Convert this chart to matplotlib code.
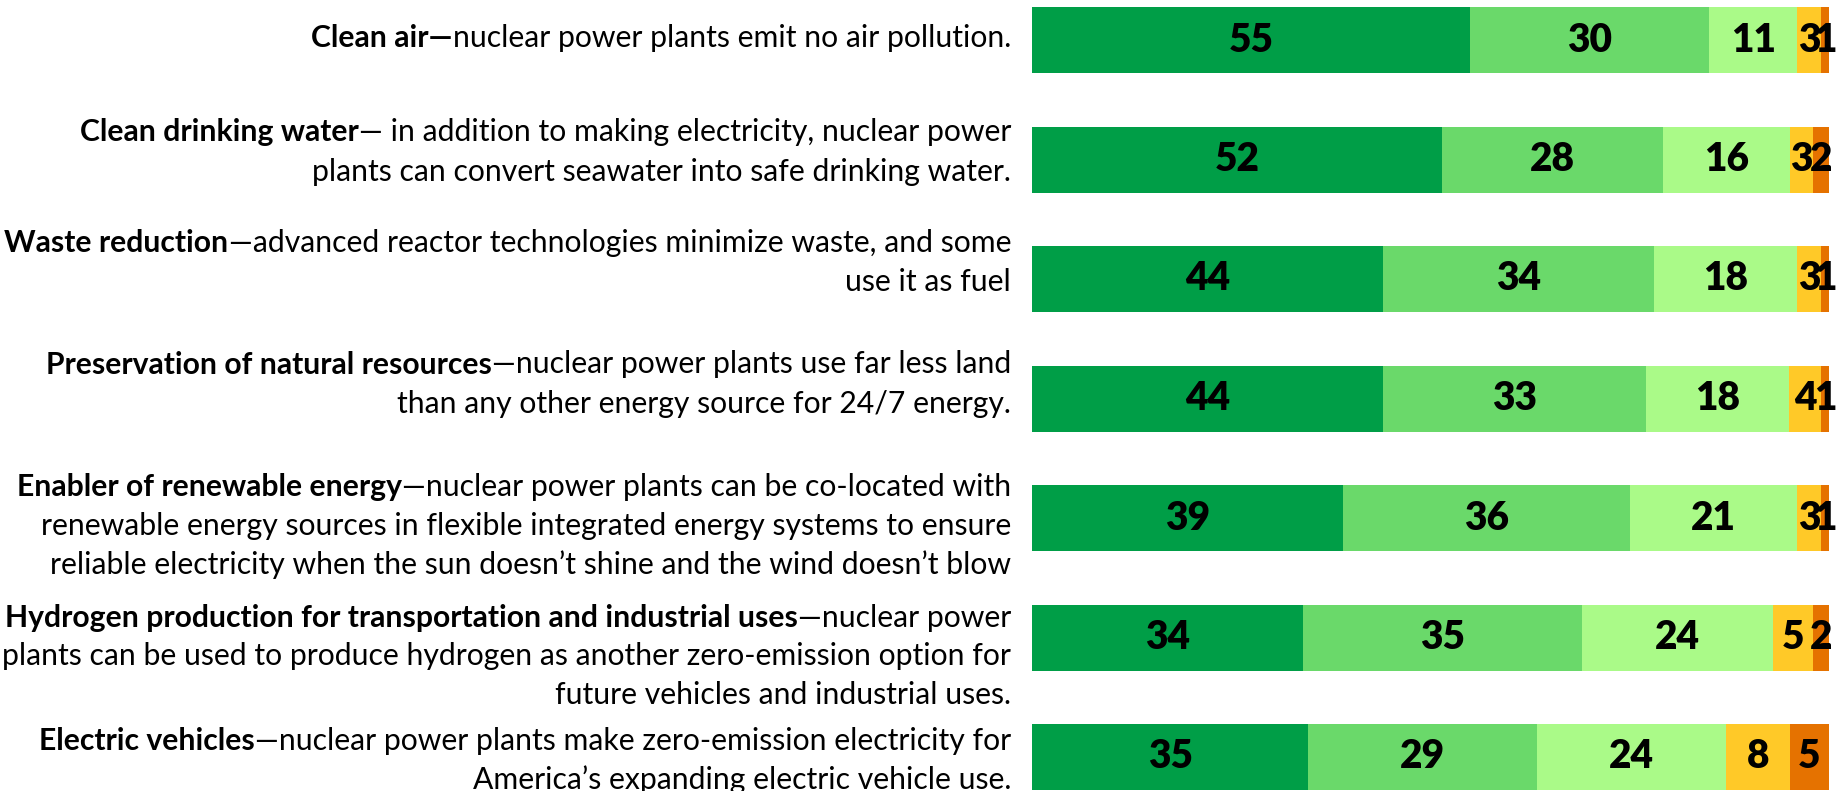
import matplotlib
matplotlib.use("Agg")
import matplotlib.pyplot as plt
import numpy as np
from matplotlib.transforms import blended_transform_factory

# ---- data ----
titles = [
    "Clean air\u2014",
    "Clean drinking water",
    "Waste reduction",
    "Preservation of natural resources",
    "Enabler of renewable energy",
    "Hydrogen production for transportation and industrial uses",
    "Electric vehicles",
]
descriptions = [
    ["nuclear power plants emit no air pollution."],
    ["\u2014 in addition to making electricity, nuclear power",
     "plants can convert seawater into safe drinking water."],
    ["\u2014advanced reactor technologies minimize waste, and some",
     "use it as fuel"],
    ["\u2014nuclear power plants use far less land",
     "than any other energy source for 24/7 energy."],
    ["\u2014nuclear power plants can be co-located with",
     "renewable energy sources in flexible integrated energy systems to ensure",
     "reliable electricity when the sun doesn\u2019t shine and the wind doesn\u2019t blow"],
    ["\u2014nuclear power",
     "plants can be used to produce hydrogen as another zero-emission option for",
     "future vehicles and industrial uses."],
    ["\u2014nuclear power plants make zero-emission electricity for",
     "America\u2019s expanding electric vehicle use."],
]
series_names = ["Strongly favor", "Somewhat favor", "Neutral", "Somewhat oppose", "Strongly oppose"]
s1 = [55, 52, 44, 44, 39, 34, 35]
s2 = [30, 28, 34, 33, 36, 35, 29]
s3 = [11, 16, 18, 18, 21, 24, 24]
s4 = [3, 3, 3, 4, 3, 5, 8]
s5 = [1, 2, 1, 1, 1, 2, 5]

# ---- style ----
colors = ["#009E47", "#6AD96A", "#AAFA88", "#FFC928", "#E57200"]
W, H = 1847, 791
FONT = "Lato"

fig = plt.figure(figsize=(W / 100, H / 100), dpi=100)
ax = fig.add_axes([1032 / W, 0, 797 / W, 1])
row_px = 119.5
first_px = 40
ax.set_ylim((H - first_px) / row_px, -first_px / row_px)
ax.set_xlim(0, 100)
ax.axis("off")

data = np.array([s1, s2, s3, s4, s5], dtype=float)
totals = data.sum(axis=0)
norm = data / totals * 100
y = np.arange(len(titles))
left = np.zeros(len(titles))
for k in range(len(series_names)):
    ax.barh(y, norm[k], left=left, height=66 / row_px, color=colors[k],
            label=series_names[k], edgecolor="none")
    for i in range(len(y)):
        ax.text(left[i] + norm[k][i] / 2, y[i], f"{int(data[k][i])}",
                ha="center", va="center", fontsize=28, fontweight="heavy",
                family=FONT, color="black")
    left += norm[k]

# ---- labels ----
renderer = fig.canvas.get_renderer()
trans = blended_transform_factory(fig.transFigure, ax.transData)
x_right = 1011 / W

# fit font size to reference width of first label line (~701 px)
probe = fig.text(0, 0, descriptions[0][0], fontsize=20, family=FONT)
probe2 = fig.text(0, 0, titles[0], fontsize=20, family=FONT, fontweight="bold")
wtot = probe.get_window_extent(renderer).width + probe2.get_window_extent(renderer).width
probe.remove(); probe2.remove()
fs = 20 * 701 / wtot

first_offsets_px = [-2, -27, -36, -34, -31, -20, -16]
line_px = 39
for i in range(len(titles)):
    yc = y[i] + first_offsets_px[i] / row_px
    for j, line in enumerate(descriptions[i]):
        yy = yc + j * line_px / row_px
        t = fig.text(x_right, yy, line, transform=trans, ha="right", va="center",
                     fontsize=fs, family=FONT, color="black")
        if j == 0:
            w = t.get_window_extent(renderer).width
            fig.text(x_right - w / W, yy, titles[i], transform=trans, ha="right",
                     va="center", fontsize=fs, family=FONT, fontweight="bold",
                     color="black")

fig.savefig("out.png", dpi=100)
